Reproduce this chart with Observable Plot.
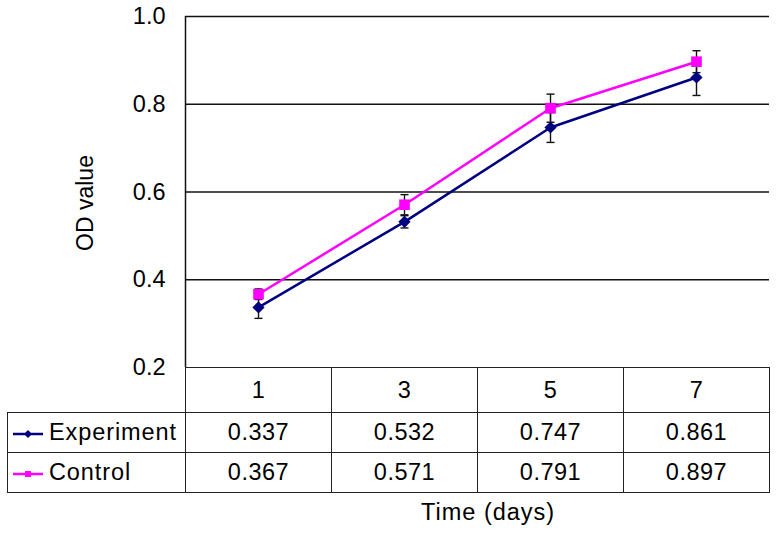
<!DOCTYPE html>
<html>
<head>
<meta charset="utf-8">
<script src="https://cdn.jsdelivr.net/npm/d3@7"></script>
<script src="https://cdn.jsdelivr.net/npm/@observablehq/plot@0.6"></script>
<style>
  body { margin: 0; background: #fff; }
  #wrap { position: relative; width: 777px; height: 536px; font-family: "Liberation Sans", Arial, sans-serif; color: #000; }
  #chart { position: absolute; left: 0; top: 0; }
  #tbl { position: absolute; left: 7px; top: 367px; border-collapse: collapse; table-layout: fixed; width: 762px; font-size: 23.5px; letter-spacing: 0.5px; }
  #tbl td { border: 1.5px solid #222; text-align: center; padding: 0; }
  #tbl td.blank { border-top: none; border-left: none; }
  #tbl tr.head td { height: 44px; }
  #tbl tr.row td { height: 39px; }
  #tbl td.lg { text-align: left; white-space: nowrap; letter-spacing: 0.9px; }
  #tbl td.lg svg { vertical-align: middle; margin-left: 5px; margin-right: 5px; }
  #xlabel { position: absolute; top: 499px; left: 421px; font-size: 23.5px; letter-spacing: 1px; }
  #ylabel { position: absolute; left: 85px; top: 203px; font-size: 23px; transform: translate(-50%, -50%) rotate(-90deg); white-space: nowrap; }
</style>
</head>
<body>
<div id="wrap">
  <div id="chart"></div>
  <table id="tbl"></table>
  <div id="xlabel">Time (days)</div>
  <div id="ylabel">OD value</div>
</div>
<script>
const days = [1, 3, 5, 7];
const seriesNames = ["Experiment", "Control"];
const experiment = [0.337, 0.532, 0.747, 0.861];
const experimentErr = [0.025, 0.014, 0.034, 0.041];
const control = [0.367, 0.571, 0.791, 0.897];
const controlErr = [0.012, 0.023, 0.032, 0.025];
const yTicks = [0.2, 0.4, 0.6, 0.8, 1.0];
const colors = {Experiment: "#000080", Control: "#ff00ff"};

const data = [];
days.forEach((d, i) => {
  data.push({day: d, series: "Experiment", v: experiment[i], e: experimentErr[i]});
  data.push({day: d, series: "Control", v: control[i], e: controlErr[i]});
});

const cap = {draw(ctx, size) { const w = 4; ctx.moveTo(-w, 0); ctx.lineTo(w, 0); }};
const caps = data.flatMap(r => [{day: r.day, y: r.v - r.e}, {day: r.day, y: r.v + r.e}]);

const plot = Plot.plot({
  width: 777,
  height: 370,
  marginTop: 16,
  marginBottom: 3,
  marginLeft: 185,
  marginRight: 8,
  style: {fontSize: "23.5px", fontFamily: "Liberation Sans, Arial, sans-serif", color: "#000", background: "#fff", overflow: "visible"},
  x: {domain: [0, 8], axis: null},
  y: {domain: [0.2, 1.0]},
  marks: [
    Plot.ruleY(yTicks.filter(t => t > 0.2), {stroke: "#111", strokeWidth: 1.3}),
    Plot.ruleX([0], {stroke: "#111", strokeWidth: 1.5}),
    Plot.axisY({ticks: yTicks, tickFormat: d3.format(".1f"), tickSize: 0, tickPadding: 20, label: null}),
    Plot.line(data, {x: "day", y: "v", z: "series", stroke: d => colors[d.series], strokeWidth: 2.5}),
    Plot.ruleX(data, {x: "day", y1: d => d.v - d.e, y2: d => d.v + d.e, stroke: "#111", strokeWidth: 1.4}),
    Plot.dot(caps, {x: "day", y: "y", symbol: cap, r: 4, stroke: "#111", strokeWidth: 1.4}),
    Plot.dot(data.filter(d => d.series === "Experiment"), {x: "day", y: "v", symbol: "diamond2", r: 5.5, fill: colors.Experiment, stroke: "none"}),
    Plot.dot(data.filter(d => d.series === "Control"), {x: "day", y: "v", symbol: "square", r: 6, fill: colors.Control, stroke: "none"})
  ]
});
document.getElementById("chart").appendChild(plot);

// data table below the plot
const tbl = d3.select("#tbl");
const cg = tbl.append("colgroup");
cg.append("col").style("width", "178px");
days.forEach(() => cg.append("col").style("width", "146px"));
const head = tbl.append("tr").attr("class", "head");
head.append("td").attr("class", "blank");
days.forEach(d => head.append("td").text(d));
const seriesVals = {Experiment: experiment, Control: control};
seriesNames.forEach(name => {
  const tr = tbl.append("tr").attr("class", "row");
  const td = tr.append("td").attr("class", "lg");
  const svg = td.append("svg").attr("width", 31).attr("height", 14);
  svg.append("line").attr("x1", 0).attr("x2", 30).attr("y1", 7).attr("y2", 7)
    .attr("stroke", colors[name]).attr("stroke-width", 2.5);
  svg.append("path").attr("transform", "translate(15,7)")
    .attr("d", d3.symbol(name === "Experiment" ? d3.symbolDiamond2 : d3.symbolSquare2, name === "Experiment" ? 40 : 45)())
    .attr("fill", colors[name]);
  td.append("span").text(name);
  seriesVals[name].forEach(v => tr.append("td").text(d3.format(".3f")(v)));
});
</script>
</body>
</html>
